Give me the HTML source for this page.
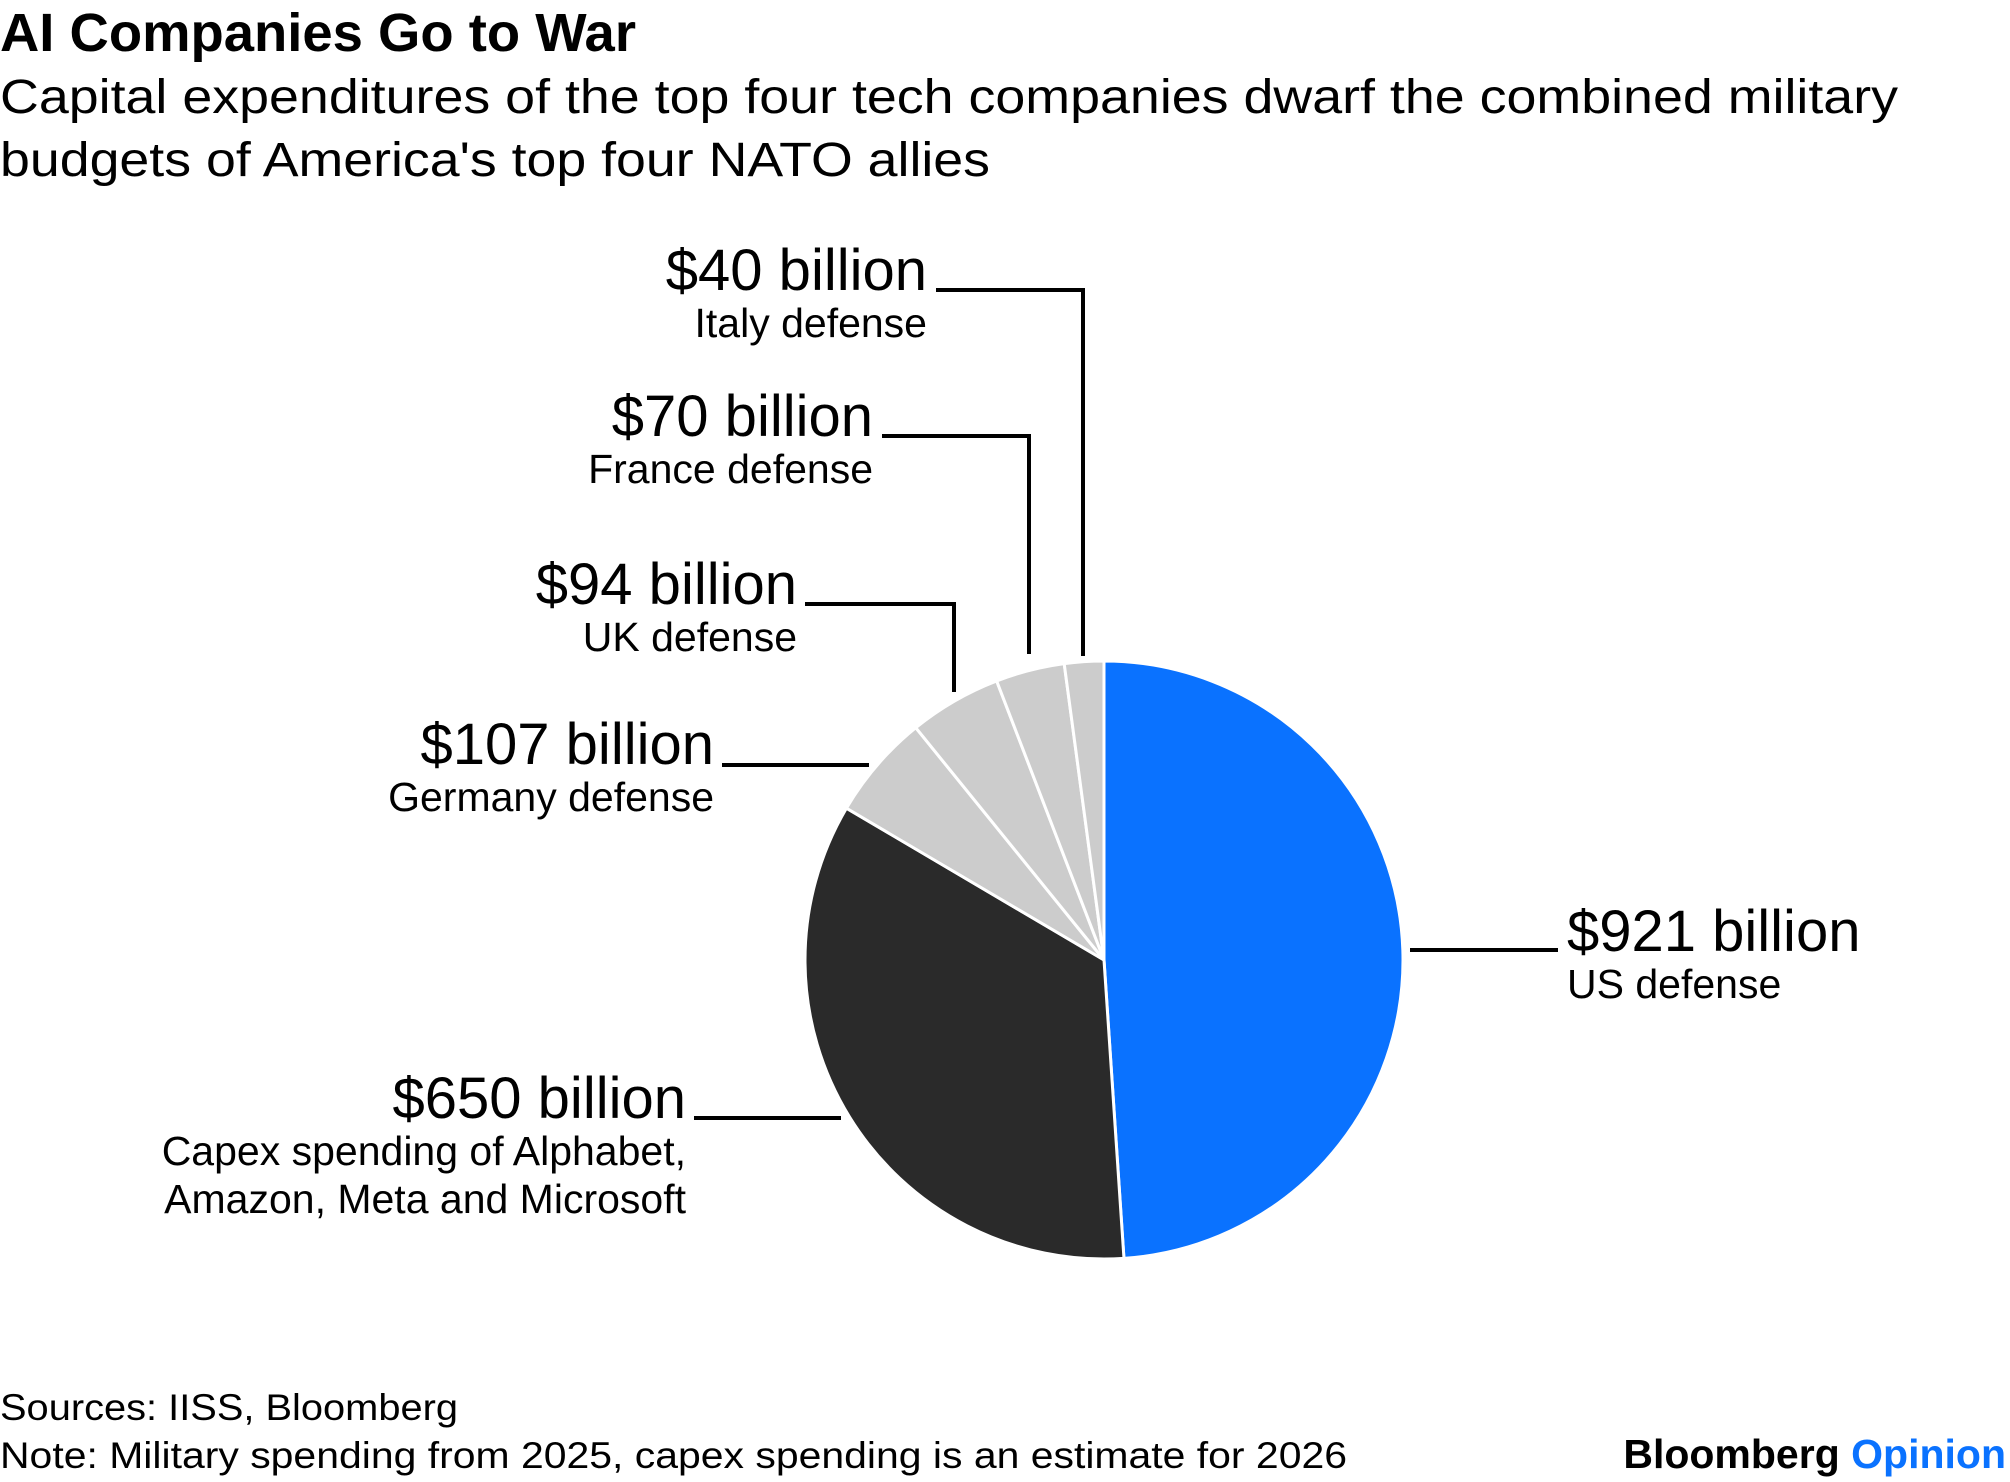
<!DOCTYPE html>
<html><head><meta charset="utf-8"><style>
html,body{margin:0;padding:0;background:#fff;width:2010px;height:1482px;overflow:hidden}
svg{display:block}
text{font-family:"Liberation Sans",Arial,sans-serif;fill:#000}
</style></head><body>
<svg id="chart" width="2010" height="1482" viewBox="0 0 2010 1482">
<text x="0" y="51" font-size="54" font-weight="bold" textLength="636" lengthAdjust="spacingAndGlyphs">AI Companies Go to War</text>
<text x="0" y="113" font-size="48" textLength="1898" lengthAdjust="spacingAndGlyphs">Capital expenditures of the top four tech companies dwarf the combined military</text>
<text x="0" y="176" font-size="48" textLength="990" lengthAdjust="spacingAndGlyphs">budgets of America's top four NATO allies</text>
<g id="slices"></g>
<g id="labels"></g>
<text x="0" y="1420" font-size="37" textLength="458" lengthAdjust="spacingAndGlyphs">Sources: IISS, Bloomberg</text>
<text x="0" y="1468" font-size="37" textLength="1347" lengthAdjust="spacingAndGlyphs">Note: Military spending from 2025, capex spending is an estimate for 2026</text>
<text x="2006" y="1468" font-size="41" font-weight="bold" text-anchor="end">Bloomberg <tspan fill="#0a72ff" style="fill:#0a72ff">Opinion</tspan></text>
</svg>
<script>
const categories = ["US defense","Capex spending","Germany defense","UK defense","France defense","Italy defense"];
const values = [921, 650, 107, 94, 70, 40];
const valueLabels = ["$921 billion","$650 billion","$107 billion","$94 billion","$70 billion","$40 billion"];
const colors = ["#0a72ff","#2a2a2a","#cccccc","#cccccc","#cccccc","#cccccc"];

const NS = "http://www.w3.org/2000/svg";
const cx = 1104, cy = 960, r = 299;
const total = values.reduce((a,b)=>a+b,0);
function pt(frac, rad){ const a = frac*2*Math.PI; return [cx + rad*Math.sin(a), cy - rad*Math.cos(a)]; }
const g = document.getElementById('slices');
let acc = 0;
values.forEach((v,i)=>{
  const f0 = acc/total, f1 = (acc+v)/total; acc += v;
  const p0 = pt(f0,r), p1 = pt(f1,r);
  const large = (f1-f0) > 0.5 ? 1 : 0;
  const p = document.createElementNS(NS,'path');
  p.setAttribute('d', `M${cx},${cy} L${p0[0]},${p0[1]} A${r},${r} 0 ${large} 1 ${p1[0]},${p1[1]} Z`);
  p.setAttribute('fill', colors[i]);
  p.setAttribute('stroke', '#fff');
  p.setAttribute('stroke-width', '3');
  p.setAttribute('stroke-linejoin', 'round');
  
  
  g.appendChild(p);
});

const lab = document.getElementById('labels');
const layouts = [
  {anchor:'start', x:1567, y:951, sub:["US defense"], line:[[1410,950],[1558,950]]},
  {anchor:'end', x:686, y:1118, sub:["Capex spending of Alphabet,","Amazon, Meta and Microsoft"], line:[[694,1118],[841,1118]]},
  {anchor:'end', x:714, y:764, sub:["Germany defense"], line:[[722,765],[869,765]]},
  {anchor:'end', x:797, y:604, sub:["UK defense"], line:[[805,604],[954,604],[954,692]]},
  {anchor:'end', x:873, y:436, sub:["France defense"], line:[[882,436],[1029,436],[1029,654]]},
  {anchor:'end', x:927, y:290, sub:["Italy defense"], line:[[936,290],[1083,290],[1083,656]]}
];
layouts.forEach((L,i)=>{
  const pl = document.createElementNS(NS,'polyline');
  pl.setAttribute('points', L.line.map(p=>p.join(',')).join(' '));
  pl.setAttribute('fill','none');
  pl.setAttribute('stroke','#000');
  pl.setAttribute('stroke-width','4');
  
  
  lab.appendChild(pl);
  const t = document.createElementNS(NS,'text');
  t.setAttribute('x', L.x); t.setAttribute('y', L.y);
  t.setAttribute('font-size','58');
  t.setAttribute('text-anchor', L.anchor);
  t.textContent = valueLabels[i];
  
  
  lab.appendChild(t);
  L.sub.forEach((s,j)=>{
    const st = document.createElementNS(NS,'text');
    st.setAttribute('x', L.x); st.setAttribute('y', L.y + 47 + j*48);
    st.setAttribute('font-size','41');
    st.setAttribute('text-anchor', L.anchor);
    st.textContent = s;
    
    
    lab.appendChild(st);
  });
});
</script>
</body></html>
